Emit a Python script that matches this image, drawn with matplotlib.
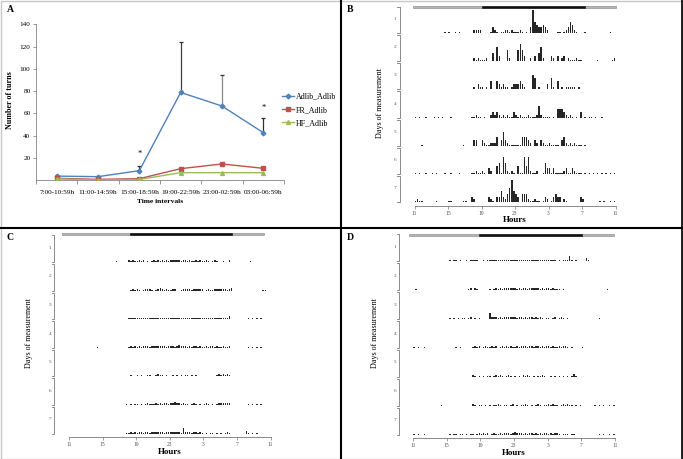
import matplotlib
matplotlib.use("Agg")
import matplotlib.pyplot as plt
import numpy as np
from matplotlib.lines import Line2D
from matplotlib.patches import Rectangle

W, H = 683, 459
plt.rcParams["font.family"] = ["Liberation Serif", "DejaVu Serif"]

# ── Panel A data ────────────────────────────────────────────────────────
intervals = ["7:00-10:59h", "11:00-14:59h", "15:00-18:59h",
             "19:00-22:59h", "23:00-02:59h", "03:00-06:59h"]
adlib_adlib = [3.5, 3.0, 8.4, 78.7, 66.5, 42.5]
fr_adlib = [1.5, 0.6, 1.2, 10.2, 14.4, 10.5]
hf_adlib = [1.0, 0.0, 0.5, 6.6, 6.6, 6.6]
err_idx = [2, 3, 4, 5]
err_upper = [12.5, 124.0, 94.2, 56.0]
signif_idx = [2, 5]
signif_y = [23.5, 64.5]

# ── Actogram data: one string per day, 15-min bins from 11:00, 4 bins per hour
# '0' none, '.' trace, ':' small, digits = tenths of the row height
hour_ticks = [11, 15, 19, 23, 3, 7, 11]

B_days = [
    "0000 0000 0000 00.0 .00. 0.00 0000 1111 0000 .21. 0..1 1.1. ..1. 0.02 8432 2321 0000 ..0. 1243 1.00 0.00 0000 0000 0.00",
    "0000 0000 0000 0000 0000 0000 0000 1.1. ..10 0305 2000 4100 0464 2001 0203 5100 0210 2012 01.. .1.. 0000 000. 0000 00.1",
    "0.00 0000 00.0 0000 0.00 0000 0.00 1.21 1.1. 3003 2121 1.12 2232 1..0 5401 0002 0410 3010 1111 1.10 0.00 0000 0000 0.00",
    ".0.0 0.00 0.0. 0.00 0.00 0000 000. .1.. 0.00 1212 1.1. 1..2 1.1. ..1. ..14 1... .0.0 3332 1.1. 0.02 0.0. .0.0 0.00 0000",
    "000. 0000 0000 0000 0000 000. 0000 2200 21.. 1113 0252 1... ...3 3321 0210 21.. 1... .023 1.1. 1... 0.00 0000 0000 0000",
    ".0.0 0.00 .0.0 00.0 0.00 0.00 000. .1.. 1.02 1003 4.64 1.1. 03.. 6361 ..10 0.42 2.2. ...1 2..2 1... 0.0. 0.0. 0.0. 0.0.",
    ".1.. 0000 00.0 0000 ..00 000. .002 1000 0002 1.02 2421 3584 3203 331. .1.. 0.21 0.23 2201 .000 0002 1000 0000 .0.0 0.0.",
]
C_days = [
    "0000 0000 0000 0000 0000 00.0 0000 :.:. .:.: 0.0. :.:. :.:. :::: :.:: .:.. :.:. .:.0 .:.0 0.00 :000 0000 00.0 0000 0000",
    "0000 0000 0000 0000 0000 0000 0000 0.:. :.0. :::. 0.:1 :.:. .::0 0.:: ::.: :::: 0.:. .::: :::. :100 0000 0000 0000 ..00",
    "0000 0000 0000 0000 0000 0000 0000 .:.: .:.. ::.: :.:: :::: ::.: .:.: :.:. ::.: .::. :.:. .::: 1000 0000 0.0. 0.0. 0000",
    "0000 0000 0000 0.00 0000 0000 0000 .:.: .:.: ::.: :::: ::.: ::.: 1::: .:.: :.:. .:.: :.:. .:.. :000 0000 0.0. 0.0. 0000",
    "0000 0000 0000 0000 0000 0000 0000 .:.. :.:. .::. .:1: :.:. 0:.: .:.: :.:. :.0. 0000 0.:1 :1:1 :000 0000 0000 0000 0000",
    "0000 0000 0000 0000 0000 0000 000. 0.0. .0.0 .:.. .:.: .::. ::1: :.:. .0.: .0.0 .:.0 .0.: :::: :000 0000 0.0. 0.0. 0000",
    "0000 0000 0000 0000 0000 0000 000. .:.: .::. ::.: :::: :.:: :::: :.2: ::.: :.:. 0.0. .0.0 .0.: .000 0000 1.0. 0.00 0000",
]
D_days = [
    "0000 0000 0000 0000 0.0. .0.0 0.0. :.:0 0.0. .:.: :.:: .:.: :::: .:.: :::: :.:: .:.: 0.0. .:2: 0.00 001. 0000 0000 0000",
    "0.00 0000 0000 0000 0000 0000 00.: 0:.0 0000 .0.: .:.: :::: :.:. ::.: :::: .:.: :.:. ..0. 0000 0000 0000 0000 0000 .000",
    "0000 0000 0000 0000 0.0. 0.0. .0.: 0.0. 0000 2::: .:.: :::: :.:: .:.: :.:. :.0. .0.: 0.:. 0.00 0000 0000 0000 .000 0000",
    ".0.0 0.00 0000 0000 0000 .0.0 0000 .:.: 0.:. .:.: 0.:. :.:. .:.: ::.: :.:: .:.: :.:. .:.: :.0. 0000 .000 0000 0000 0000",
    "0000 0000 0000 0000 0000 0000 0000 :.0. 0.0. .0.: .:.0 .:.0 .0.0 :.:. 0.0. .:.0 0.0. 0.0. 0.0. 1.00 0000 0000 0000 0000",
    "0000 0000 0000 0.00 0000 0000 0000 :.0. .0.0 .0.. :.0. .0.: 0.0. .:.0 .0.: .0.. :.:. .0.: .:.. 0.0. 0000 00.0 .0.0 0.0.",
    ".0.0 0.00 0000 0000 0.0. .0.. 0.0. .0.: .:.: 0.:. .:.: ::.: 1::: .:.: :.:. :.:: .:.: :.0. ..0. .000 0000 0000 .0.0 0.0.",
]

LEVEL = {"0": 0.0, ".": 0.03, ":": 0.06}


def parse_day(s):
    return np.array([LEVEL[c] if c in LEVEL else int(c) / 10
                     for c in s.replace(" ", "")])


def fx(px):
    return px / W


def fy(py):
    return 1 - py / H


def rect(x0, y0, x1, y1):
    return [x0 / W, 1 - y1 / H, (x1 - x0) / W, (y1 - y0) / H]


fig = plt.figure(figsize=(W / 100, H / 100), dpi=100)

# ── Panel A ─────────────────────────────────────────────────────────────
ax = fig.add_axes(rect(36, 24.3, 284, 180))
x = np.arange(len(intervals))
ax.vlines(np.array(err_idx), np.array(adlib_adlib)[err_idx], err_upper,
          colors=["#404040", "#404040", "#8a8a8a", "#303030"], lw=0.9, zorder=1)
ax.scatter(err_idx, err_upper, marker="_", s=9, c="#303030", lw=0.9, zorder=1)
l1, = ax.plot(x, adlib_adlib, color="#4F81BD", marker="D", ms=2.4, lw=1.0, zorder=3)
l2, = ax.plot(x, fr_adlib, color="#C0504D", marker="s", ms=2.4, lw=1.0, zorder=3)
l3, = ax.plot(x, hf_adlib, color="#9BBB59", marker="^", ms=2.8, lw=1.0, zorder=3)
for i, yv in zip(signif_idx, signif_y):
    ax.text(i, yv, "*", ha="center", va="center", fontsize=6)
ax.set_xlim(-0.5, len(intervals) - 0.5)
ax.set_ylim(0, 140)
ax.set_yticks(np.arange(20, 141, 20))
ax.set_xticks(np.arange(-0.5, len(intervals)), labels=[""] * (len(intervals) + 1))
ax.set_xticks(x, labels=intervals, minor=True)
ax.tick_params(axis="x", which="major", length=3, width=0.6, color="#868686")
ax.tick_params(axis="x", which="minor", length=0, pad=7, labelsize=5.2)
ax.tick_params(axis="y", length=2.5, width=0.6, color="#868686", labelsize=5.2, pad=1.5)
for s in ["top", "right"]:
    ax.spines[s].set_visible(False)
for s in ["left", "bottom"]:
    ax.spines[s].set_color("#868686")
    ax.spines[s].set_linewidth(0.6)
ax.legend([l1, l2, l3], ["Adlib_Adlib", "FR_Adlib", "HF_Adlib"],
          loc="center left", bbox_to_anchor=(fx(282), fy(110)),
          bbox_transform=fig.transFigure, frameon=False, fontsize=5.8,
          handlelength=1.5, handletextpad=0.25, labelspacing=0.65,
          borderpad=0, borderaxespad=0)
fig.text(fx(10), fy(100), "Number of turns", rotation=90, ha="center",
         va="center", fontsize=5.8, fontweight="bold")
fig.text(fx(160), fy(202), "Time intervals", ha="center", va="center",
         fontsize=5.4, fontweight="bold")


# ── Actograms ───────────────────────────────────────────────────────────
def draw_actogram(ax, days, lights, lights_y, hours_y, label_y, left_px):
    n = len(days)
    for d, s in enumerate(days):
        h = parse_day(s)
        xs = np.arange(len(h)) * 0.25 + 0.125
        m = h > 0
        ax.bar(xs[m], h[m], width=0.17, bottom=n - 1 - d,
               color="#262626", linewidth=0)
    ax.set_xlim(0, 24)
    ax.set_ylim(0, n)
    ax.set_yticks([])
    ax.set_xticks(np.arange(0, 25, 4), labels=[str(t) for t in hour_ticks])
    ax.tick_params(axis="x", length=1.8, width=0.5, color="#777777",
                   labelsize=4.1, labelcolor="#555555", pad=1.8)
    for s in ["top", "right", "left"]:
        ax.spines[s].set_visible(False)
    ax.spines["bottom"].set_position(("outward", 2.7))
    ax.spines["bottom"].set_color("#777777")
    ax.spines["bottom"].set_linewidth(0.6)
    # day brackets
    tr = ax.get_yaxis_transform()
    w_px = ax.get_position().width * W
    xv = -left_px / w_px
    xt = -(left_px + 2.5) / w_px
    for d in range(n):
        b = n - 1 - d
        ax.plot([xt, xv, xv, xt], [b + 0.93, b + 0.93, b, b], transform=tr,
                clip_on=False, color="#777777", lw=0.6)
        ax.text(-(left_px + 4.5) / w_px, b + 0.5, str(d + 1), transform=tr,
                ha="center", va="center", fontsize=3.8, color="#555555")
    # light/dark bar
    x0, xd0, xd1, x1 = lights
    ax.add_patch(Rectangle((x0, lights_y - 0.035), x1 - x0, 0.07,
                           facecolor="#b4b4b4", edgecolor="#808080",
                           lw=0.4, clip_on=False))
    ax.add_patch(Rectangle((xd0, lights_y - 0.035), xd1 - xd0, 0.07,
                           facecolor="#111111", edgecolor="#111111",
                           lw=0.4, clip_on=False))
    pos = ax.get_position()
    fig.text(pos.x0 + pos.width / 2, fy(hours_y), "Hours", ha="center",
             va="center", fontsize=6.5, fontweight="bold")
    fig.text(pos.x0 - label_y / W, pos.y0 + pos.height / 2,
             "Days of measurement", rotation=90, ha="center", va="center",
             fontsize=5.8)


axB = fig.add_axes(rect(414.5, 4.8, 615.5, 202.3))
draw_actogram(axB, B_days, (-0.2, 8.08, 20.3, 24.0), 6.93, 220, 34.5, 15)
axC = fig.add_axes(rect(69, 233.4, 270.5, 433.7))
draw_actogram(axC, C_days, (-0.83, 7.3, 19.4, 23.2), 6.98, 452, 40, 14.7)
axD = fig.add_axes(rect(413, 232.4, 615, 434.7))
draw_actogram(axD, D_days, (-0.44, 7.84, 20.1, 23.9), 6.92, 453, 38, 13.7)

# panel letters
for lab, px, py in [("A", 10, 10), ("B", 350, 10), ("C", 10, 238), ("D", 350, 238)]:
    fig.text(fx(px), fy(py), lab, ha="center", va="center", fontsize=7,
             fontweight="bold")

# frame and separators
fig.add_artist(Rectangle((0.001, 0.001), 0.997, 0.997, transform=fig.transFigure,
                         fill=False, edgecolor="#c8c8c8", lw=1))
fig.add_artist(Line2D([fx(340.5)] * 2, [0, 1], color="black", lw=1.5))
fig.add_artist(Line2D([0, 1], [fy(228)] * 2, color="black", lw=1.5))
fig.add_artist(Line2D([fx(682)] * 2, [0, 1], color="black", lw=1.2))

fig.savefig("out.png", dpi=100)
